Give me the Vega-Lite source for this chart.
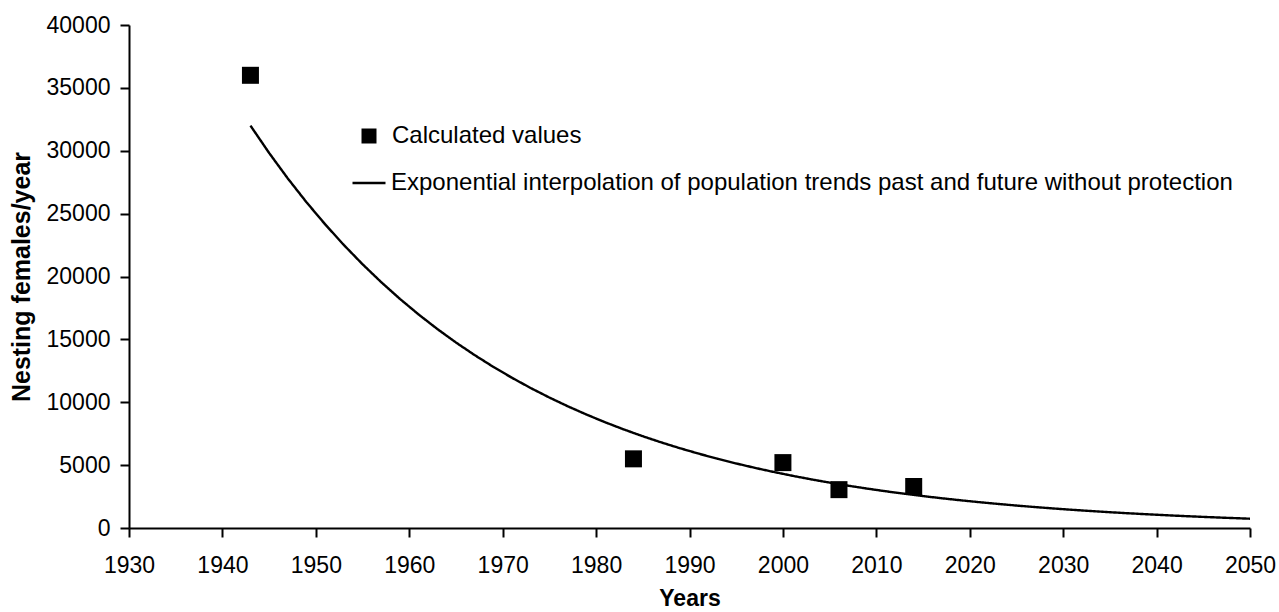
{
  "$schema": "https://vega.github.io/schema/vega-lite/v6.json",
  "autosize": "none",
  "width": 1121,
  "height": 503,
  "padding": {"left": 129, "top": 25, "right": 29, "bottom": 84},
  "background": "white",
  "config": {
    "font": "Liberation Sans",
    "view": {"stroke": null},
    "axis": {
      "grid": false,
      "domainColor": "black",
      "domainWidth": 2,
      "tickColor": "black",
      "tickWidth": 2,
      "tickSize": 9,
      "labelFont": "Liberation Sans",
      "labelFontSize": 23,
      "labelColor": "black",
      "titleFont": "Liberation Sans",
      "titleFontSize": 23,
      "titleFontWeight": "bold",
      "titleColor": "black"
    },
    "legend": {
      "labelFont": "Liberation Sans",
      "labelFontSize": 24,
      "labelColor": "black",
      "labelLimit": 2000,
      "padding": 0
    }
  },
  "datasets": {
    "observed": [
      {"year": 1943, "females": 36000, "series": "Calculated values"},
      {"year": 1984, "females": 5500, "series": "Calculated values"},
      {"year": 2000, "females": 5200, "series": "Calculated values"},
      {"year": 2006, "females": 3050, "series": "Calculated values"},
      {"year": 2014, "females": 3300, "series": "Calculated values"}
    ],
    "trend": [
      {"year": 1943, "females": 32000},
      {"year": 1945, "females": 29824},
      {"year": 1947, "females": 27796},
      {"year": 1949, "females": 25906},
      {"year": 1951, "females": 24146},
      {"year": 1953, "females": 22505},
      {"year": 1955, "females": 20975},
      {"year": 1957, "females": 19549},
      {"year": 1959, "females": 18221},
      {"year": 1961, "females": 16982},
      {"year": 1963, "females": 15828},
      {"year": 1965, "females": 14752},
      {"year": 1967, "females": 13749},
      {"year": 1969, "females": 12814},
      {"year": 1971, "females": 11943},
      {"year": 1973, "females": 11131},
      {"year": 1975, "females": 10375},
      {"year": 1977, "females": 9670},
      {"year": 1979, "females": 9012},
      {"year": 1981, "females": 8400},
      {"year": 1983, "females": 7829},
      {"year": 1985, "females": 7297},
      {"year": 1987, "females": 6801},
      {"year": 1989, "females": 6339},
      {"year": 1991, "females": 5908},
      {"year": 1993, "females": 5506},
      {"year": 1995, "females": 5132},
      {"year": 1997, "females": 4783},
      {"year": 1999, "females": 4458},
      {"year": 2001, "females": 4155},
      {"year": 2003, "females": 3872},
      {"year": 2005, "females": 3609},
      {"year": 2007, "females": 3364},
      {"year": 2009, "females": 3135},
      {"year": 2011, "females": 2922},
      {"year": 2013, "females": 2723},
      {"year": 2015, "females": 2538},
      {"year": 2017, "females": 2366},
      {"year": 2019, "females": 2205},
      {"year": 2021, "females": 2055},
      {"year": 2023, "females": 1915},
      {"year": 2025, "females": 1785},
      {"year": 2027, "females": 1664},
      {"year": 2029, "females": 1551},
      {"year": 2031, "females": 1445},
      {"year": 2033, "females": 1347},
      {"year": 2035, "females": 1255},
      {"year": 2037, "females": 1170},
      {"year": 2039, "females": 1091},
      {"year": 2041, "females": 1016},
      {"year": 2043, "females": 947},
      {"year": 2045, "females": 883},
      {"year": 2047, "females": 823},
      {"year": 2049, "females": 767},
      {"year": 2050, "females": 740}
    ]
  },
  "encoding": {
    "x": {
      "field": "year",
      "type": "quantitative",
      "scale": {"domain": [1930, 2050], "nice": false, "zero": false},
      "axis": {
        "values": [1930, 1940, 1950, 1960, 1970, 1980, 1990, 2000, 2010, 2020, 2030, 2040, 2050],
        "format": "d",
        "labelPadding": 17,
        "labelFlush": false,
        "labelOverlap": false,
        "title": "Years",
        "titlePadding": 10
      }
    },
    "y": {
      "field": "females",
      "type": "quantitative",
      "scale": {"domain": [0, 40000], "nice": false},
      "axis": {
        "values": [0, 5000, 10000, 15000, 20000, 25000, 30000, 35000, 40000],
        "format": "d",
        "labelPadding": 10,
        "labelFlush": false,
        "labelOverlap": false,
        "title": "Nesting females/year",
        "titleFontSize": 25,
        "titlePadding": 12
      }
    }
  },
  "layer": [
    {
      "data": {"name": "trend"},
      "mark": {"type": "line", "color": "black", "strokeWidth": 2.4, "clip": true},
      "encoding": {
        "strokeDash": {
          "datum": "Exponential interpolation of population trends past and future without protection",
          "type": "nominal",
          "scale": {"range": [[1, 0]]},
          "legend": {
            "title": null,
            "orient": "none",
            "legendX": 222,
            "legendY": 140,
            "symbolType": "stroke",
            "symbolSize": 1089,
            "symbolStrokeColor": "black",
            "symbolStrokeWidth": 2.4,
            "labelOffset": 4
          }
        }
      }
    },
    {
      "data": {"name": "observed"},
      "mark": {"type": "point", "shape": "square", "filled": true, "color": "black", "size": 289, "opacity": 1},
      "encoding": {
        "shape": {
          "field": "series",
          "type": "nominal",
          "scale": {"range": ["square"]},
          "legend": {
            "title": null,
            "orient": "none",
            "legendX": 228,
            "legendY": 99,
            "symbolSize": 225,
            "symbolFillColor": "black",
            "symbolStrokeColor": "black",
            "symbolStrokeWidth": 0,
            "symbolOpacity": 1,
            "labelOffset": 11
          }
        }
      }
    }
  ],
  "resolve": {"scale": {"shape": "independent", "strokeDash": "independent"}, "legend": {"shape": "independent", "strokeDash": "independent"}}
}
